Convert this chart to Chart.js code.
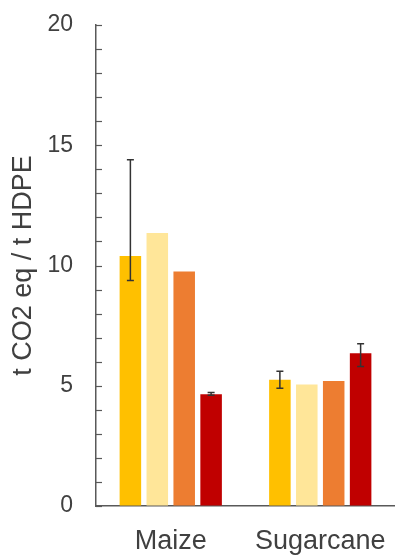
<!DOCTYPE html>
<html>
<head>
<meta charset="utf-8">
<script src="https://cdn.jsdelivr.net/npm/chart.js@4"></script>
<style>
  html, body { margin: 0; padding: 0; background: #fff; }
  #wrap { width: 395px; height: 558px; }
</style>
</head>
<body>
<div id="wrap"><canvas id="chart"></canvas></div>
<script>
const categories = ["Maize", "Sugarcane"];
const seriesA = [10.4, 5.25];
const seriesB = [11.35, 5.05];
const seriesC = [9.75, 5.2];
const seriesD = [4.65, 6.35];
// error ranges [low, high], null = no error bar
const errA = [[9.38, 14.4], [4.9, 5.6]];
const errD = [[4.6, 4.72], [5.8, 6.75]];
const yTicksMajor = [0, 5, 10, 15, 20];

const axisColor = "#595959";
const textColor = "#404040";

// short tick marks drawn on the inner side of the y axis
const innerTicks = {
    id: "innerTicks",
    afterDraw(chart) {
        const y = chart.scales.y;
        const ctx = chart.ctx;
        ctx.save();
        ctx.strokeStyle = axisColor;
        ctx.lineWidth = 1.2;
        y.ticks.forEach(t => {
            const py = Math.round(y.getPixelForValue(t.value)) + 0.5;
            ctx.beginPath();
            ctx.moveTo(y.right, py);
            ctx.lineTo(y.right + 6, py);
            ctx.stroke();
        });
        ctx.restore();
    }
};

const errorBars = {
    id: "errorBars",
    afterDatasetsDraw(chart) {
        const ctx = chart.ctx;
        const y = chart.scales.y;
        ctx.save();
        ctx.strokeStyle = "#333";
        ctx.lineWidth = 1.5;
        chart.data.datasets.forEach((ds, i) => {
            if (!ds.errors) return;
            chart.getDatasetMeta(i).data.forEach((bar, j) => {
                const e = ds.errors[j];
                if (!e) return;
                const yl = y.getPixelForValue(e[0]);
                const yh = y.getPixelForValue(e[1]);
                ctx.beginPath();
                ctx.moveTo(bar.x, yl); ctx.lineTo(bar.x, yh);
                ctx.moveTo(bar.x - 3.5, yl); ctx.lineTo(bar.x + 3.5, yl);
                ctx.moveTo(bar.x - 3.5, yh); ctx.lineTo(bar.x + 3.5, yh);
                ctx.stroke();
            });
        });
        ctx.restore();
    }
};

new Chart(document.getElementById("chart"), {
    type: "bar",
    data: {
        labels: categories,
        datasets: [
            { label: "A", data: seriesA, backgroundColor: "#FFC000", errors: errA },
            { label: "B", data: seriesB, backgroundColor: "#FFE699" },
            { label: "C", data: seriesC, backgroundColor: "#ED7D31" },
            { label: "D", data: seriesD, backgroundColor: "#C00000", errors: errD },
        ]
    },
    options: {
        responsive: true,
        maintainAspectRatio: false,
        animation: false,
        layout: { padding: { top: 25, right: 0, bottom: 0, left: 0 } },
        plugins: { legend: { display: false }, tooltip: { enabled: false } },
        datasets: { bar: { categoryPercentage: 0.72, barPercentage: 0.8 } },
        scales: {
            x: {
                grid: { display: false, drawTicks: false },
                border: { color: axisColor, width: 1.5 },
                ticks: { color: textColor, padding: 19, font: { family: "Liberation Sans", size: 27 } },
                afterFit(s) { s.height = 52; s.paddingLeft = 0; s.paddingRight = 0; }
            },
            y: {
                min: 0, max: 20,
                grid: { drawOnChartArea: false, drawTicks: false },
                border: { color: axisColor, width: 1.5 },
                ticks: {
                    stepSize: 1, autoSkip: false, padding: 23, color: textColor,
                    font: { family: "Liberation Sans", size: 23 },
                    callback: v => yTicksMajor.includes(v) ? v : ""
                },
                title: {
                    display: true, text: "t CO2 eq / t HDPE", color: textColor,
                    font: { family: "Liberation Sans", size: 27 },
                    padding: { top: 7, bottom: 0 }
                },
                afterFit(s) { s.width = 96; s.paddingTop = 0; s.paddingBottom = 0; }
            }
        }
    },
    plugins: [innerTicks, errorBars]
});
</script>
</body>
</html>
